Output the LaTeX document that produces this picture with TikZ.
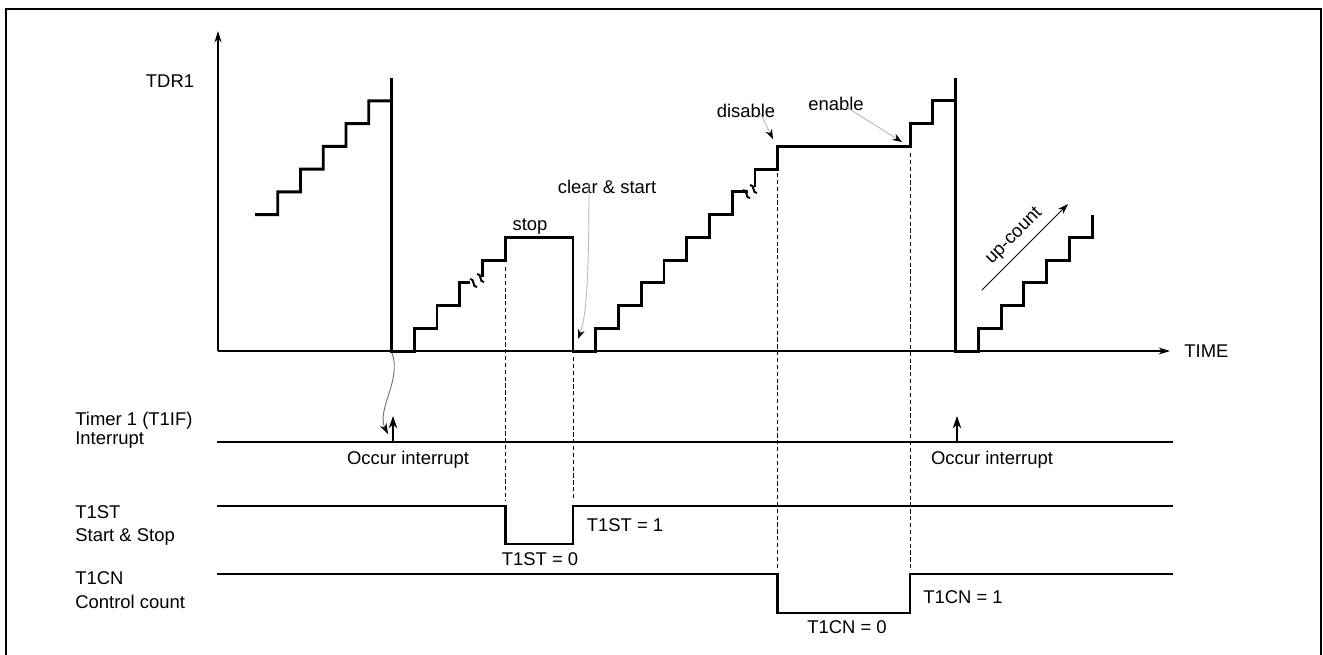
\documentclass[tikz,border=0pt]{standalone}
\usepackage{fontspec}
\setmainfont{Liberation Sans}
\usetikzlibrary{arrows.meta, positioning}
\definecolor{calloutGray}{HTML}{B8B8B8}
\definecolor{curveGray}{HTML}{6E6E6E}
\tikzset{
  trace/.style={line width=1.7pt, line join=miter},
  sig/.style={line width=1.5pt},
  axisline/.style={line width=0.6pt, -{Stealth[length=6.5pt, width=4pt]}},
  guide/.style={line width=0.55pt, dash pattern=on 2.4pt off 1.5pt},
  callout/.style={draw=calloutGray, line width=0.5pt,
                  -{Stealth[length=5.5pt, width=4pt, color=black]}},
  irqline/.style={draw=curveGray, line width=0.5pt,
                  -{Stealth[length=6pt, width=4pt, color=black]}},
  irqarrow/.style={line width=1.4pt, -{Stealth[length=7pt, width=4.8pt]}},
  countarrow/.style={line width=0.5pt, -{Stealth[length=6pt, width=4pt]}},
  brkmark/.style={line width=1.1pt},
  lbl/.style={inner sep=0pt},
  sidelbl/.style={inner sep=0pt, align=left, anchor=base west},
}
\begin{document}
\begin{tikzpicture}[x=0.02cm, y=-0.02cm, font=\fontsize{10.5}{12.6}\selectfont]
  \useasboundingbox (0,0) rectangle (1323,654);
  % frame
  \draw[line width=0.85pt] (6,670) -- (6,9) -- (1321,9) -- (1321,670);

  % axes
  \coordinate (O) at (218,351);
  \coordinate (yTop) at (218,31);
  \coordinate (xEnd) at (1170,351);
  \draw[axisline] (O) -- (yTop);
  \draw[axisline] (O) -- (xEnd);
  \node[lbl, anchor=base] (tdr) at (170,87) {TDR1};
  \node[lbl, right=8pt of xEnd] (time) {TIME};

  % counter value
  \draw[trace] (255,214.5) \foreach \k in {1,...,5} { -- ++(22.75,0) -- ++(0,-22.75) }
    -- (391.5,100.75);
  \draw[trace] (391.5,78) -- (391.5,351) \foreach \k in {1,2,3} { -- ++(22.75,0) -- ++(0,-22.75) }
    -- ++(10,0);
  \draw[trace] (482.5,277) -- (482.5,260) -- (505.25,260) -- (505.25,237.25) -- (573,237.25)
    -- (573,351) \foreach \k in {1,...,7} { -- ++(22.75,0) -- ++(0,-22.75) } -- ++(16,0);
  \draw[trace] (755,187) -- (755,169) -- (777.75,169) -- (777.75,146.25) -- (910,146.25)
    -- (910,123.5) -- (932.75,123.5) -- (932.75,100.75) -- (955.5,100.75);
  \draw[trace] (955.5,78) -- (955.5,351) \foreach \k in {1,...,6} { -- ++(22.75,0) -- ++(0,-22.75) };

  % breaks
  \draw[brkmark] (470,279) .. controls +(5,-1) and +(-5,1) .. (477,287);
  \draw[brkmark] (477,274) .. controls +(5,-1) and +(-5,1) .. (484,282);
  \draw[brkmark] (743,190) .. controls +(5,-1) and +(-5,1) .. (750,198);
  \draw[brkmark] (750,185) .. controls +(5,-1) and +(-5,1) .. (757,193);

  % guides
  \draw[guide] (505.25,267) -- (505.25,500);
  \draw[guide] (573,357) -- (573,500);
  \draw[guide] (777.75,173) -- (777.75,568);
  \draw[guide] (910,153) -- (910,568);

  % events
  \node[lbl, anchor=base] (stop) at (530,230) {stop};
  \node[lbl, anchor=base] (clr) at (607,193) {clear \& start};
  \node[lbl, anchor=base] (dis) at (746,117) {disable};
  \node[lbl, anchor=base] (en) at (836,110) {enable};
  \coordinate (clrTip) at (578,339);
  \coordinate (disTip) at (773,139);
  \coordinate (enTip) at (902,142);
  \draw[callout] (clr.south) ++(-18,-11) .. controls +(0,86) and +(9,-24) .. (clrTip);
  \draw[callout] (dis.south) ++(14,-5) -- (disTip);
  \draw[callout] (en.south) ++(11,-3) -- (enTip);

  \coordinate (ucA) at (982,290);
  \coordinate (ucB) at (1068,204);
  \draw[countarrow] (ucA) -- node[above=0.5pt, sloped] {up-count} (ucB);

  % signals
  \node[sidelbl] (irqlbl) at (75,444) {Timer 1 (T1IF)\\[-2.3pt]Interrupt};
  \node[sidelbl] (stlbl) at (75,541) {T1ST\\Start \& Stop};
  \node[sidelbl] (cnlbl) at (75,608) {T1CN\\[1pt]Control count};

  \draw[sig] (217,442) -- (1173,442);
  \draw[sig] (217,506) -- (505.25,506) -- (505.25,544) -- (573,544) -- (573,506) -- (1173,506);
  \draw[sig] (217,574) -- (777.75,574) -- (777.75,613) -- (910,613) -- (910,574) -- (1173,574);

  \coordinate (drop) at (392,353);
  \coordinate (irqTip) at (388,434);
  \draw[irqline] (drop) .. controls (402,380) and (376,410) .. (irqTip);
  \coordinate (irqA) at (393,442);
  \coordinate (irqAtop) at (393,416);
  \coordinate (irqB) at (957,442);
  \coordinate (irqBtop) at (957,416);
  \draw[irqarrow] (irqA) -- (irqAtop);
  \draw[irqarrow] (irqB) -- (irqBtop);
  \node[lbl, anchor=base] (occA) at (408,464) {Occur interrupt};
  \node[lbl, anchor=base] (occB) at (992,464) {Occur interrupt};

  \node[lbl, anchor=base] (st0) at (540,565) {T1ST = 0};
  \node[lbl, anchor=base] (st1) at (625,531) {T1ST = 1};
  \node[lbl, anchor=base] (cn0) at (847,633) {T1CN = 0};
  \node[lbl, anchor=base] (cn1) at (963,603) {T1CN = 1};
\end{tikzpicture}
\end{document}
